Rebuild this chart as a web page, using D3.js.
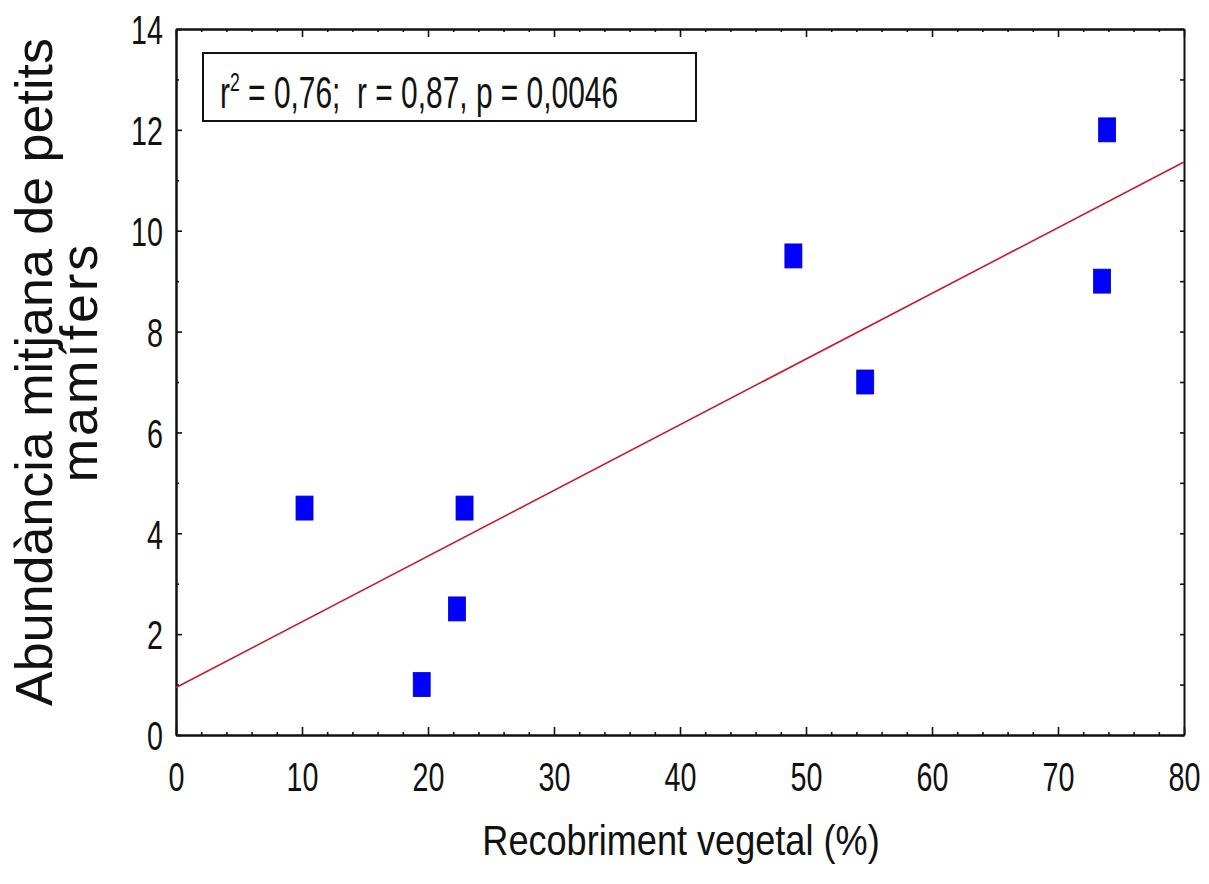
<!DOCTYPE html>
<html>
<head>
<meta charset="utf-8">
<script src="https://cdn.jsdelivr.net/npm/d3@7"></script>
<style>
  html, body { margin: 0; padding: 0; background: #ffffff; }
  svg { display: block; font-family: "Liberation Sans", Arial, sans-serif; }
  text { white-space: pre; }
</style>
</head>
<body>
<svg id="chart" width="1209" height="884"></svg>
<script>
// Vegetation cover (%) per site and mean small-mammal abundance
const coverPct = [10.2, 19.5, 22.3, 22.9, 49.0, 54.7, 73.5, 73.9];
const abundance = [4.5, 1.0, 2.5, 4.5, 9.5, 7.0, 9.0, 12.0];

const xMajorTicks = [0, 10, 20, 30, 40, 50, 60, 70, 80];
const yMajorTicks = [0, 2, 4, 6, 8, 10, 12, 14];
const statsText = ["r", "2", " = 0,76;  r = 0,87, p = 0,0046"];
const xTitle = "Recobriment vegetal (%)";
const yTitleLines = ["Abundància mitjana de petits", "mamífers"];

const svg = d3.select("#chart");
const plotL = 176, plotR = 1184, plotT = 29, plotB = 735;

const x = d3.scaleLinear().domain([0, 80]).range([plotL, plotR]);
const y = d3.scaleLinear().domain([0, 14]).range([plotB, plotT]);

// Condensed look for the numeric labels
const tickScaleX = 0.7;
const tickFont = 41;

function styleAxis(g) {
  g.select(".domain").attr("stroke", "#111").attr("stroke-width", 2);
  g.selectAll(".tick line").attr("stroke", "#111").attr("stroke-width", 1.6);
}

// Minor tick marks
const xMinor = d3.range(0, 81, 2).filter(v => v % 10 !== 0);
const yMinor = d3.range(1, 14, 2);

svg.append("g").attr("transform", `translate(0,${plotB})`)
  .call(d3.axisBottom(x).tickValues(xMinor).tickSize(-3).tickSizeOuter(0).tickFormat(""))
  .call(styleAxis);
svg.append("g").attr("transform", `translate(0,${plotT})`)
  .call(d3.axisTop(x).tickValues(xMinor).tickSize(-3).tickSizeOuter(0).tickFormat(""))
  .call(styleAxis);
svg.append("g").attr("transform", `translate(${plotL},0)`)
  .call(d3.axisLeft(y).tickValues(yMinor).tickSize(-3).tickSizeOuter(0).tickFormat(""))
  .call(styleAxis);

// Major axes
const gx = svg.append("g").attr("transform", `translate(0,${plotB})`)
  .call(d3.axisBottom(x).tickValues(xMajorTicks).tickSize(-8).tickSizeOuter(0).tickPadding(27))
  .call(styleAxis);
gx.selectAll(".tick text")
  .attr("font-size", tickFont).attr("font-family", "Liberation Sans, Arial, sans-serif")
  .attr("fill", "#111")
  .attr("transform", `scale(${tickScaleX},1)`);

svg.append("g").attr("transform", `translate(0,${plotT})`)
  .call(d3.axisTop(x).tickValues(xMajorTicks).tickSize(-8).tickSizeOuter(0).tickFormat(""))
  .call(styleAxis);

const gy = svg.append("g").attr("transform", `translate(${plotL},0)`)
  .call(d3.axisLeft(y).tickValues(yMajorTicks).tickSize(-6).tickSizeOuter(0).tickPadding(13))
  .call(styleAxis);
gy.selectAll(".tick text")
  .attr("font-size", tickFont).attr("font-family", "Liberation Sans, Arial, sans-serif")
  .attr("fill", "#111")
  .attr("x", -13 / tickScaleX)
  .attr("dy", "0.36em")
  .attr("transform", `scale(${tickScaleX},1)`);

svg.append("g").attr("transform", `translate(${plotR},0)`)
  .call(d3.axisRight(y).tickValues(d3.range(0, 15, 1)).tickSize(-4).tickSizeOuter(0).tickFormat(""))
  .call(styleAxis);

// Least-squares fit computed from the data
const mx = d3.mean(coverPct), my = d3.mean(abundance);
const sxy = d3.sum(coverPct, (v, i) => (v - mx) * (abundance[i] - my));
const sxx = d3.sum(coverPct, v => (v - mx) * (v - mx));
const slope = sxy / sxx, intercept = my - slope * mx;
const fitLine = d3.line().x(d => x(d)).y(d => y(intercept + slope * d));
svg.append("path")
  .datum(x.domain())
  .attr("d", fitLine)
  .attr("fill", "none")
  .attr("stroke", "#c41c2c")
  .attr("stroke-width", 1.6);

// Points
const mw = 17, mh = 24;
svg.append("g").selectAll("rect")
  .data(coverPct.map((v, i) => [v, abundance[i]]))
  .join("rect")
  .attr("x", d => x(d[0]) - mw / 2)
  .attr("y", d => y(d[1]) - mh / 2)
  .attr("width", mw)
  .attr("height", mh)
  .attr("fill", "#0000ff")
  .attr("stroke", "#0000c0")
  .attr("stroke-width", 0.8);

// Statistics box
svg.append("rect")
  .attr("x", 203).attr("y", 53).attr("width", 493).attr("height", 68)
  .attr("fill", "#ffffff").attr("stroke", "#111").attr("stroke-width", 2);
const st = svg.append("g").attr("transform", `translate(220,108) scale(0.68,1)`)
  .append("text").attr("font-size", 44).attr("fill", "#111");
st.append("tspan").text(statsText[0]);
st.append("tspan").attr("font-size", 26).attr("dy", -17).text(statsText[1]);
st.append("tspan").attr("dy", 17).text(statsText[2]);

// Axis titles
svg.append("g").attr("transform", `translate(681,855) scale(0.86,1)`)
  .append("text").attr("text-anchor", "middle").attr("font-size", 42)
  .attr("fill", "#111").text(xTitle);

svg.append("text")
  .attr("transform", "translate(52,372) rotate(-90)")
  .attr("text-anchor", "middle").attr("font-size", 52).attr("fill", "#111")
  .text(yTitleLines[0]);
svg.append("text")
  .attr("transform", "translate(97,362) rotate(-90)")
  .attr("text-anchor", "middle").attr("font-size", 52).attr("fill", "#111")
  .attr("letter-spacing", 3)
  .text(yTitleLines[1]);
</script>
</body>
</html>
